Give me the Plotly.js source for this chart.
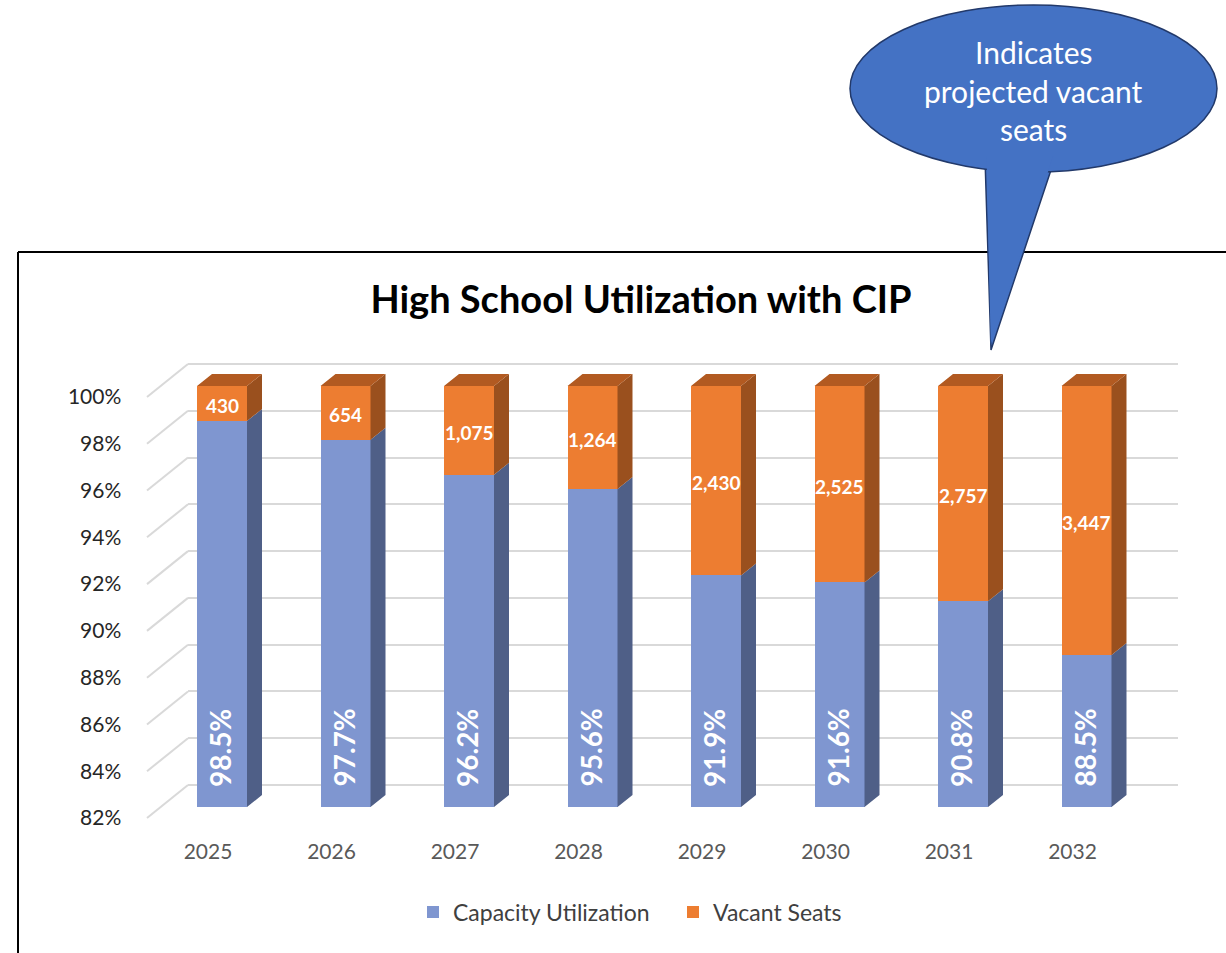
<!DOCTYPE html>
<html>
<head>
<meta charset="utf-8">
<script src="https://cdn.plot.ly/plotly-3.0.1.min.js"></script>
<style>html,body{margin:0;padding:0;background:#fff;}#chart{width:1226px;height:953px;}</style>
</head>
<body>
<div id="chart"></div>
<script>
// ---- data ----
const years = ['2025','2026','2027','2028','2029','2030','2031','2032'];
const utilization = [98.5, 97.7, 96.2, 95.6, 91.9, 91.6, 90.8, 88.5];
const vacantSeats = [430, 654, 1075, 1264, 2430, 2525, 2757, 3447];
const yTicks = [82, 84, 86, 88, 90, 92, 94, 96, 98, 100];
const yTickLabels = yTicks.map(v => v + '%');
const seriesNames = ['Capacity Utilization', 'Vacant Seats'];
const calloutLines = ['Indicates', 'projected vacant', 'seats'];

// ---- layout geometry (pixels) ----
const W = 1226, H = 953;
const FONT = 'Lato, "Open Sans", sans-serif';
const px = x => x / W;
const py = y => 1 - y / H;
const catPx = 123.5;                 // px per category
const xLeft = 222 - catPx / 2;       // bars subplot left edge
const xRight = xLeft + catPx * 8;
const yBase = 807;                   // 82% on the front plane
const pxPerPct = 23.39;
const yMin = 82, yMaxBars = 101;
const barTopPx = yBase - (yMaxBars - yMin) * pxPerPct;
const barW = 50 / catPx;
const depthX = 15 / catPx;           // 3D depth in axis units
const depthY = 12 / pxPerPct;

const colBlue = '#7F96D0', colBlueSide = '#4F5F87';
const colOrange = '#ED7D31', colOrangeSide = '#9A501E', colOrangeTop = '#B25A21';

const idx = years.map((_, i) => i);

// ---- front faces ----
const traces = [];
traces.push({
  type: 'bar', name: seriesNames[0], x: idx, y: utilization.map(u => u - yMin),
  base: utilization.map(() => yMin), width: barW,
  marker: {color: colBlue, line: {width: 0}},
  xaxis: 'x2', yaxis: 'y2', hoverinfo: 'skip'
});
traces.push({
  type: 'bar', name: seriesNames[1], x: idx, y: utilization.map(u => 100 - u),
  base: utilization.slice(), width: barW,
  marker: {color: colOrange, line: {width: 0}},
  xaxis: 'x2', yaxis: 'y2', hoverinfo: 'skip'
});

// ---- side / top faces (derived from data) ----
function sidePoly(i, y0, y1) {
  const xr = i + barW / 2;
  return {x: [xr, xr + depthX, xr + depthX, xr, xr, null],
          y: [y0, y0 + depthY, y1 + depthY, y1, y0, null]};
}
function topPoly(i, yTop) {
  const xl = i - barW / 2, xr = i + barW / 2;
  return {x: [xl, xl + depthX, xr + depthX, xr, xl, null],
          y: [yTop, yTop + depthY, yTop + depthY, yTop, yTop, null]};
}
function polyTrace(polys, color) {
  const x = [], y = [];
  polys.forEach(p => { x.push(...p.x); y.push(...p.y); });
  return {type: 'scatter', mode: 'lines', x, y, fill: 'toself', fillcolor: color,
          line: {width: 0, color: color}, showlegend: false, hoverinfo: 'skip',
          xaxis: 'x2', yaxis: 'y2'};
}
traces.push(polyTrace(idx.map(i => sidePoly(i, yMin, utilization[i])), colBlueSide));
traces.push(polyTrace(idx.map(i => sidePoly(i, utilization[i], 100)), colOrangeSide));
traces.push(polyTrace(idx.map(i => topPoly(i, 100)), colOrangeTop));

// grid subplot needs one invisible trace
traces.push({type: 'scatter', mode: 'markers', x: [0], y: [90], marker: {opacity: 0},
  showlegend: false, hoverinfo: 'skip', xaxis: 'x', yaxis: 'y'});

// ---- annotations ----
const annotations = [];
idx.forEach(i => {
  annotations.push({
    xref: 'x2', yref: 'y2', x: i, y: (utilization[i] + 100) / 2, yshift: -2,
    text: '<b>' + vacantSeats[i].toLocaleString('en-US') + '</b>', showarrow: false,
    font: {family: FONT, size: 19, color: '#ffffff'}
  });
  annotations.push({
    xref: 'x2', yref: 'y2', x: i, y: yMin, yanchor: 'bottom', xanchor: 'center',
    yshift: 18, xshift: -2, textangle: -90,
    text: '<b>' + utilization[i].toFixed(1) + '%</b>', showarrow: false,
    font: {family: FONT, size: 28, color: '#ffffff'}
  });
});
const calloutY = [52, 91, 129];
calloutLines.forEach((t, k) => annotations.push({
  xref: 'paper', yref: 'paper', x: px(1033), y: py(calloutY[k]), xanchor: 'center', yanchor: 'middle',
  text: t, showarrow: false, font: {family: FONT, size: 30, color: '#ffffff'}
}));

// ---- shapes ----
const gridTopPx = 364, gridBotPx = 785;
const gridPad = 0.1 * (gridBotPx - gridTopPx) / 18;
const shapes = [];
// diagonal floor/wall lines from label plane to back wall
yTicks.forEach(v => {
  const yBack = gridBotPx - (v - yMin) * (gridBotPx - gridTopPx) / 18;
  shapes.push({type: 'line', xref: 'paper', yref: 'paper', layer: 'below',
    x0: px(147), y0: py(yBack + 33), x1: px(188), y1: py(yBack),
    line: {color: '#D9D9D9', width: 2}});
});
// frame
shapes.push({type: 'line', xref: 'paper', yref: 'paper', x0: px(18), y0: py(252), x1: px(1240), y1: py(252),
  line: {color: '#000000', width: 2}});
shapes.push({type: 'line', xref: 'paper', yref: 'paper', x0: px(18), y0: py(252), x1: px(18), y1: py(970),
  line: {color: '#000000', width: 2}});
// callout
const P = (x, y) => px(x) + ',' + py(y);
const calloutFill = '#4472C4', calloutLine = '#22396A';
shapes.push({type: 'path', xref: 'paper', yref: 'paper',
  path: 'M' + P(985, 158) + ' L' + P(991, 350) + ' L' + P(1055, 158) + ' Z',
  fillcolor: calloutFill, line: {color: calloutLine, width: 1.5}});
shapes.push({type: 'circle', xref: 'paper', yref: 'paper',
  x0: px(850), x1: px(1217), y0: py(172), y1: py(5),
  fillcolor: calloutFill, line: {color: calloutLine, width: 1.5}});
shapes.push({type: 'path', xref: 'paper', yref: 'paper',
  path: 'M' + P(986.6, 156) + ' L' + P(1053.3, 156) + ' L' + P(990.7, 344) + ' Z',
  fillcolor: calloutFill, line: {width: 0}});

const layout = {
  width: W, height: H, autosize: false,
  margin: {l: 0, r: 0, t: 0, b: 0, pad: 0},
  paper_bgcolor: '#ffffff', plot_bgcolor: 'rgba(0,0,0,0)',
  font: {family: FONT},
  title: {text: '<b>High School Utilization with CIP</b>', x: px(641), xanchor: 'center',
    y: py(300), yanchor: 'middle', xref: 'paper', yref: 'paper',
    font: {family: FONT, size: 38, color: '#000000'}},
  barmode: 'overlay', bargap: 0,
  // grid (back wall) subplot
  xaxis: {domain: [px(188), px(1178)], range: [0, 1], showgrid: false, zeroline: false,
    showticklabels: false, showline: false, fixedrange: true},
  yaxis: {domain: [py(gridBotPx + gridPad), py(gridTopPx - gridPad)], range: [yMin - 0.1, 100.1],
    tickvals: yTicks, showticklabels: false, showgrid: true, gridcolor: '#D9D9D9', gridwidth: 2,
    zeroline: false, showline: false, fixedrange: true},
  // bars subplot (front plane)
  xaxis2: {domain: [px(xLeft), px(xRight)], range: [-0.5, 7.5], anchor: 'y2',
    tickvals: idx, ticktext: years, showgrid: false, zeroline: false, showline: false, ticks: '',
    ticklabelshift: -14, ticklabelstandoff: 30,
    tickfont: {family: FONT, size: 21, color: '#595959'}, fixedrange: true},
  yaxis2: {domain: [py(yBase), py(barTopPx)], range: [yMin, yMaxBars], anchor: 'x2',
    tickvals: yTicks, ticktext: yTickLabels, showgrid: false, zeroline: false, showline: false, ticks: '',
    ticklabelshift: 11, ticklabelstandoff: 38,
    tickfont: {family: FONT, size: 21, color: '#262626'}, fixedrange: true},
  showlegend: true,
  legend: {orientation: 'h', x: px(673), xanchor: 'center', y: py(912), yanchor: 'middle',
    entrywidth: 215, entrywidthmode: 'pixels',
    font: {family: FONT, size: 23, color: '#404040'}, bgcolor: 'rgba(0,0,0,0)', traceorder: 'normal'},
  annotations, shapes
};

Plotly.newPlot('chart', traces, layout, {displayModeBar: false, staticPlot: true});
</script>
</body>
</html>
